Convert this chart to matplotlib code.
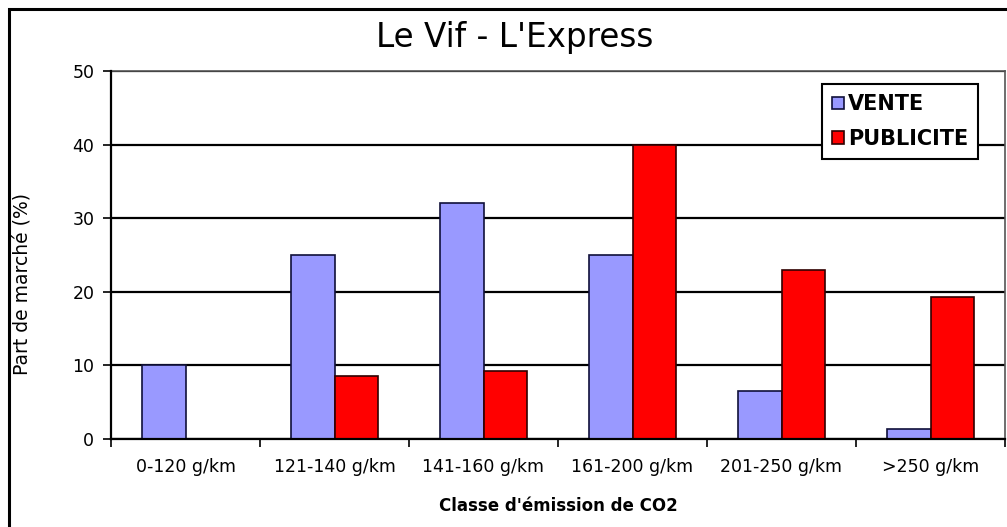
import numpy as np
import matplotlib
matplotlib.use("Agg")
import matplotlib.pyplot as plt
from matplotlib.patches import Rectangle

# ------------------- DATA -------------------
categories = ["0-120 g/km", "121-140 g/km", "141-160 g/km",
              "161-200 g/km", "201-250 g/km", ">250 g/km"]
vente = [10, 25, 32, 25, 6.5, 1.4]
publicite = [0, 8.6, 9.2, 40, 23, 19.3]
y_ticks = [0, 10, 20, 30, 40, 50]

TITLE = "Le Vif - L'Express"
X_LABEL = "Classe d'émission de CO2"
Y_LABEL = "Part de marché (%)"

COLOR_VENTE = "#9999FF"
COLOR_PUB = "#FF0000"

# ------------------- FIGURE -------------------
plt.rcParams['font.family'] = ['DejaVu Sans']

fig = plt.figure(figsize=(10.07, 5.27), dpi=100)
ax = fig.add_axes([111 / 1007, 1 - 439 / 527, 894 / 1007, 368 / 527])

x = np.arange(len(categories))
bar_w = 0.295

ax.bar(x - bar_w, vente, width=bar_w, align='edge', color=COLOR_VENTE,
       edgecolor='#10103a', linewidth=1.2, label='VENTE', zorder=2)
ax.bar(x, publicite, width=bar_w, align='edge', color=COLOR_PUB,
       edgecolor='#300000', linewidth=1.2, label='PUBLICITE', zorder=2)

# axes / grid
ax.set_xlim(-0.5, len(categories) - 0.5)
ax.set_ylim(0, 50)
ax.set_yticks(y_ticks)
ax.set_yticklabels([str(v) for v in y_ticks], fontsize=12.5)
ax.yaxis.grid(True, color='black', linewidth=1.6, zorder=0)
ax.set_axisbelow(True)

ax.set_xticks(x)
ax.set_xticklabels(categories, fontsize=12.5)
ax.set_xticks(np.arange(-0.5, len(categories)), minor=True)
ax.tick_params(axis='x', which='major', length=0, pad=14)
ax.tick_params(axis='x', which='minor', length=6, width=1.2, direction='out')
ax.tick_params(axis='y', length=6, width=1.2, direction='out', pad=6)

for side in ['left', 'bottom']:
    ax.spines[side].set_color('black')
    ax.spines[side].set_linewidth(1.6)
    ax.spines[side].set_zorder(3)
for side in ['top', 'right']:
    ax.spines[side].set_color('#555555')
    ax.spines[side].set_linewidth(1.2)

ax.set_xlabel(X_LABEL, fontsize=12, fontweight='bold', labelpad=15)
ax.set_ylabel(Y_LABEL, fontsize=13.5)
ax.yaxis.set_label_coords(-0.089, 0.42)

# legend
leg = ax.legend(loc='upper left', bbox_to_anchor=(0.795, 0.965),
                prop={'weight': 'bold', 'size': 15},
                frameon=True, fancybox=False, edgecolor='black',
                framealpha=1, handlelength=0.55, handleheight=0.55,
                handletextpad=0.2, labelspacing=0.7, borderpad=0.5,
                borderaxespad=0)
leg.get_frame().set_linewidth(1.5)
leg.set_zorder(5)

# title
fig.text(515 / 1007, 1 - 37 / 527, TITLE, fontsize=23.5,
         ha='center', va='center')

# outer chart border
fig.patches.append(Rectangle((9 / 1007, -0.2), 1.5, 1.2 - 9 / 527,
                             transform=fig.transFigure, fill=False,
                             edgecolor='black', linewidth=2.2))

fig.savefig("out.png", dpi=100, facecolor='white')
